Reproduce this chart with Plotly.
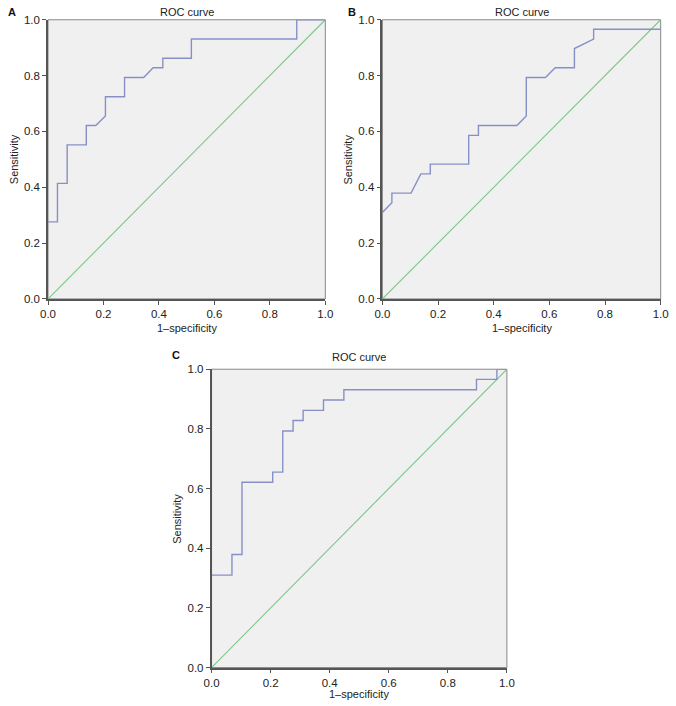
import plotly.graph_objects as go

# ---- data ----
a_fpr = [0, 0.034, 0.034, 0.069, 0.069, 0.138, 0.138, 0.172, 0.207, 0.207, 0.276, 0.276,
         0.345, 0.379, 0.414, 0.414, 0.517, 0.517, 0.897, 0.897, 1.0]
a_tpr = [0.276, 0.276, 0.414, 0.414, 0.552, 0.552, 0.621, 0.621, 0.655, 0.724, 0.724, 0.793,
         0.793, 0.828, 0.828, 0.862, 0.862, 0.931, 0.931, 1.0, 1.0]

b_fpr = [0, 0.034, 0.034, 0.103, 0.138, 0.172, 0.172, 0.310, 0.310, 0.345, 0.345, 0.483,
         0.517, 0.517, 0.586, 0.621, 0.690, 0.690, 0.759, 0.759, 1.0]
b_tpr = [0.310, 0.345, 0.379, 0.379, 0.448, 0.448, 0.483, 0.483, 0.586, 0.586, 0.621, 0.621,
         0.655, 0.793, 0.793, 0.828, 0.828, 0.897, 0.931, 0.966, 0.966]

c_fpr = [0, 0.069, 0.069, 0.103, 0.103, 0.207, 0.207, 0.241, 0.241, 0.276, 0.276, 0.310,
         0.310, 0.379, 0.379, 0.448, 0.448, 0.897, 0.897, 0.966, 0.966, 1.0]
c_tpr = [0.310, 0.310, 0.379, 0.379, 0.621, 0.621, 0.655, 0.655, 0.793, 0.793, 0.828, 0.828,
         0.862, 0.862, 0.897, 0.897, 0.931, 0.931, 0.966, 0.966, 1.0, 1.0]

ref_line = [0, 1]
tick_vals = [0.0, 0.2, 0.4, 0.6, 0.8, 1.0]
tick_text = ["0.0", "0.2", "0.4", "0.6", "0.8", "1.0"]
panel_labels = ["A", "B", "C"]
title_text = "ROC curve"
x_title = "1\u2013specificity"
y_title = "Sensitivity"

W, H = 676, 706
FONT = "Liberation Sans, Arial, sans-serif"
CURVE = "#8790c6"
DIAG = "#7cc68a"
BG = "#f0f0f0"

# plot areas in pixels: (x0, x1, y0_top, y1_bottom)
areas = [(41, 325, 14, 298), (383.5, 668.5, 14, 298), (208.5, 511, 369.5, 673)]
curves = [(a_fpr, a_tpr), (b_fpr, b_tpr), (c_fpr, c_tpr)]
xtitle_gap = [30, 30, 27]
title_y = [6, 6, 357]

fig = go.Figure()
layout = dict(width=W, height=H, margin=dict(l=0, r=0, t=0, b=0),
              paper_bgcolor="white", showlegend=False,
              font=dict(family=FONT, size=11, color="#222"))
annotations = []
shapes = []

for i, ((x0, x1, yt, yb), (fx, ty)) in enumerate(zip(areas, curves)):
    n = "" if i == 0 else str(i + 1)
    xa, ya = "x" + n, "y" + n
    dx = [x0 / W, x1 / W]
    dy = [1 - yb / H, 1 - yt / H]
    fig.add_trace(go.Scatter(x=ref_line, y=ref_line, mode="lines", xaxis=xa, yaxis=ya,
                             line=dict(color=DIAG, width=1.1), hoverinfo="skip"))
    fig.add_trace(go.Scatter(x=fx, y=ty, mode="lines", xaxis=xa, yaxis=ya,
                             line=dict(color=CURVE, width=1.4)))
    common = dict(range=[0, 1], tickvals=tick_vals, ticktext=tick_text, showgrid=False,
                  zeroline=False, ticks="outside", ticklen=4, tickcolor="#555",
                  showline=True, linecolor="#555", linewidth=1.5,
                  tickfont=dict(size=11.5, color="#222"))
    layout["xaxis" + n] = dict(common, domain=dx, anchor=ya)
    layout["yaxis" + n] = dict(common, domain=dy, anchor=xa)
    shapes.append(dict(type="rect", xref=xa + " domain", yref=ya + " domain",
                       x0=0, x1=1, y0=0, y1=1, fillcolor=BG,
                       line=dict(color="#888", width=1), layer="below"))
    cx = (x0 + x1) / 2 / W
    annotations.append(dict(text=title_text, x=cx, y=1 - title_y[i] / H, xref="paper", yref="paper",
                            showarrow=False, xanchor="center", yanchor="middle",
                            font=dict(size=11, color="#222")))
    annotations.append(dict(text=x_title, x=cx, y=1 - (yb + xtitle_gap[i]) / H,
                            xref="paper", yref="paper",
                            showarrow=False, xanchor="center", yanchor="middle",
                            font=dict(size=11, color="#222")))
    annotations.append(dict(text=y_title, x=(x0 - 35) / W, y=1 - (yt + yb) / 2 / H,
                            xref="paper", yref="paper", textangle=-90,
                            showarrow=False, xanchor="center", yanchor="middle",
                            font=dict(size=11, color="#222")))

label_pos = [(4, 6), (352, 6), (172, 355)]
for lab, (px, py) in zip(panel_labels, label_pos):
    annotations.append(dict(text="<b>" + lab + "</b>", x=px / W, y=1 - py / H,
                            xref="paper", yref="paper", showarrow=False,
                            xanchor="center", yanchor="middle",
                            font=dict(size=11, color="#111")))

layout["annotations"] = annotations
layout["shapes"] = shapes
layout["plot_bgcolor"] = "white"
fig.update_layout(**layout)
fig.write_html("out.html", config={"displayModeBar": False},
               post_script="document.body.style.margin='0';document.body.style.overflow='hidden';")
